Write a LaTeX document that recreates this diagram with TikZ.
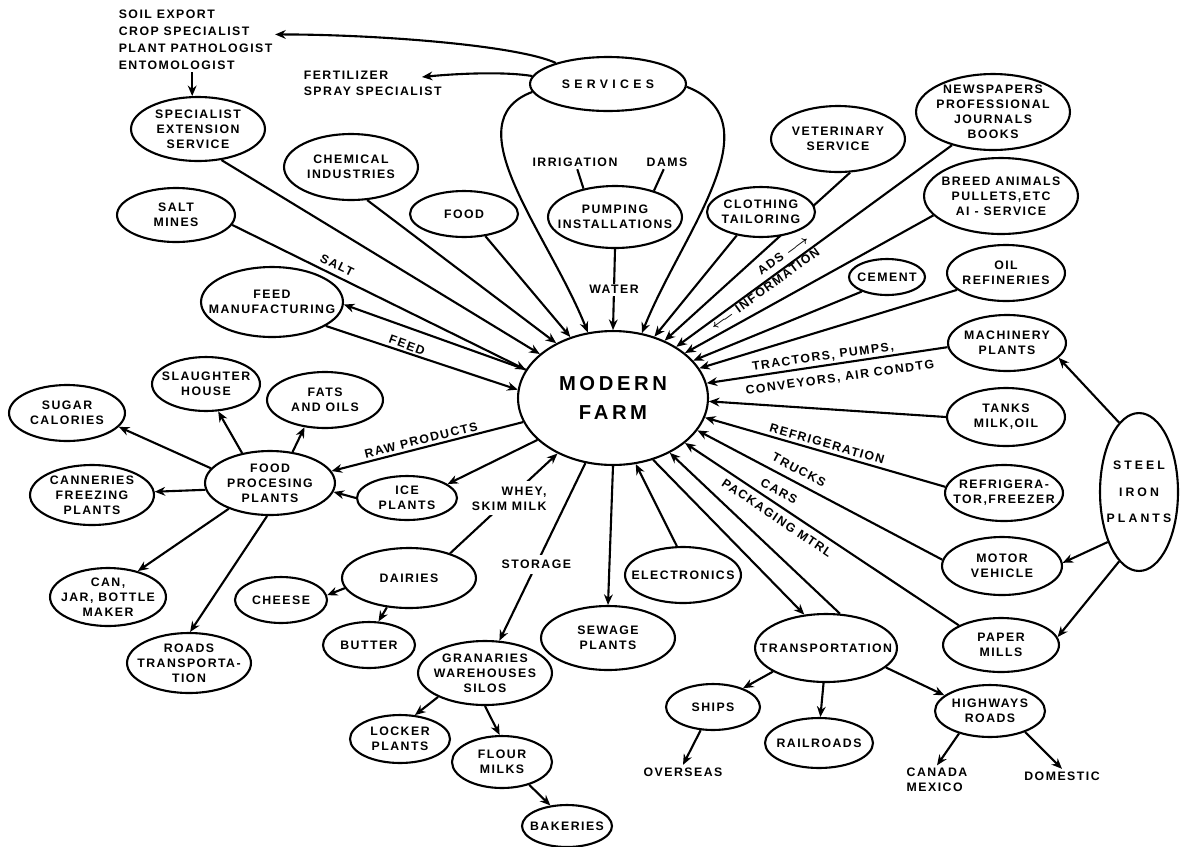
\documentclass[tikz,border=0pt]{standalone}
\usepackage{fontspec}
\setmainfont{Liberation Sans}[LetterSpace=12]
\usetikzlibrary{arrows.meta}
\usetikzlibrary{shapes.geometric}

\tikzset{
  oval/.style 2 args={ellipse, draw, fill=white, inner sep=0pt,
    minimum width=#1*0.04cm, minimum height=#2*0.04cm},
  every label/.style={align=center, inner sep=0pt,
    font=\bfseries\fontsize{7}{8.5}\selectfont},
  txt/.style={align=center, inner sep=1pt,
    font=\bfseries\fontsize{7}{8.5}\selectfont},
  arr/.style={-{Stealth[length=6pt,width=5pt]}},
}

\begin{document}
\begin{tikzpicture}[x=0.02cm, y=-0.02cm, line width=1.2pt]
  \useasboundingbox (0,0) rectangle (1180,846);

  % Centre
  \node[oval={95}{67}, label={[font=\bfseries\fontsize{11.5}{17}\selectfont\addfontfeature{LetterSpace=18}]center:MODERN\\FARM}] (farm) at (613,398) {};

  % Services
  \node[oval={78}{27}, label={[font=\bfseries\fontsize{7}{8.5}\selectfont\addfontfeature{LetterSpace=35}]center:SERVICES}] (services) at (608,84) {};
  \node[txt, anchor=west, align=left, font=\bfseries\fontsize{7}{9.6}\selectfont] (soil) at (116,40) {SOIL EXPORT\\CROP SPECIALIST\\PLANT PATHOLOGIST\\ENTOMOLOGIST};
  \node[txt, anchor=west, align=left, font=\bfseries\fontsize{7}{9}\selectfont] (fert) at (301,83) {FERTILIZER\\SPRAY SPECIALIST};
  \coordinate (fertin) at (422,77);

  % Upper left
  \node[oval={67}{32}, label={center:SPECIALIST\\EXTENSION\\SERVICE}] (spec) at (198,129) {};
  \node[oval={67}{33}, label={center:CHEMICAL\\INDUSTRIES}] (chem) at (351,167) {};
  \node[oval={54}{23}, label={center:FOOD}] (food) at (464,214) {};
  \node[oval={59}{27}, label={center:SALT\\MINES}] (saltm) at (176,215) {};
  \node[oval={71}{35}, label={center:FEED\\MANUFACTURING}] (feedm) at (272,302) {};

  % Upper middle
  \node[oval={67}{31}, label={center:PUMPING\\INSTALLATIONS}] (pump) at (615,217) {};
  \node[txt] (irrig) at (575,162) {IRRIGATION};
  \node[txt] (dams) at (667,162) {DAMS};
  \node[oval={67}{33}, label={center:VETERINARY\\SERVICE}] (vet) at (838,139) {};

  % Upper right
  \node[oval={77}{38}, label={center:NEWSPAPERS\\PROFESSIONAL\\JOURNALS\\BOOKS}] (news) at (993,112) {};
  \node[oval={77}{38}, label={center:{BREED ANIMALS\\PULLETS,ETC\\AI - SERVICE}}] (breed) at (1001,196) {};
  \node[oval={38}{18}, label={center:CEMENT}] (cement) at (887,277) {};
  \node[oval={59}{28}, label={center:OIL\\REFINERIES}] (oil) at (1006,273) {};

  % Right
  \node[oval={59}{28}, label={center:MACHINERY\\PLANTS}] (mach) at (1007,343) {};
  \node[oval={59}{29}, label={center:{TANKS\\MILK,OIL}}] (tanks) at (1006,417) {};
  \node[oval={59}{28}, label={center:{REFRIGERA-\\TOR,FREEZER}}] (fridge) at (1004,493) {};
  \node[oval={60}{29}, label={center:MOTOR\\VEHICLE}] (motor) at (1002,566) {};
  \node[oval={58}{27}, label={center:PAPER\\MILLS}] (paper) at (1001,645) {};
  \node[oval={39}{79}, label={[font=\bfseries\fontsize{7}{15}\selectfont\addfontfeature{LetterSpace=25}]center:STEEL\\IRON\\PLANTS}] (steel) at (1139,492) {};

  % Left
  \node[oval={54}{27}, label={center:SLAUGHTER\\HOUSE}] (slaughter) at (206,384) {};
  \node[oval={58}{28}, label={center:FATS\\AND OILS}] (fats) at (325,400) {};
  \node[oval={58}{28}, label={center:SUGAR\\CALORIES}] (sugar) at (67,413) {};
  \node[oval={65}{32}, label={center:FOOD\\PROCESING\\PLANTS}] (foodp) at (270,483) {};
  \node[oval={62}{30}, label={center:CANNERIES\\FREEZING\\PLANTS}] (cann) at (92,495) {};
  \node[oval={58}{29}, label={center:{CAN,\\JAR, BOTTLE\\MAKER}}] (can) at (108,597) {};
  \node[oval={62}{30}, label={center:ROADS\\TRANSPORTA-\\TION}] (roads) at (189,663) {};
  \node[oval={50}{22}, label={center:ICE\\PLANTS}] (ice) at (407,498) {};

  % Lower middle
  \node[oval={67}{30}, label={center:DAIRIES}] (dairies) at (409,578) {};
  \node[oval={46}{23}, label={center:CHEESE}] (cheese) at (281,600) {};
  \node[oval={46}{23}, label={center:BUTTER}] (butter) at (369,645) {};
  \node[oval={67}{32}, label={center:GRANARIES\\WAREHOUSES\\SILOS}] (gran) at (485,673) {};
  \node[oval={50}{24}, label={center:LOCKER\\PLANTS}] (locker) at (400,739) {};
  \node[oval={50}{26}, label={center:FLOUR\\MILKS}] (flour) at (502,762) {};
  \node[oval={45}{21}, label={center:BAKERIES}] (bakeries) at (567,826) {};
  \node[oval={67}{32}, label={center:SEWAGE\\PLANTS}] (sewage) at (608,638) {};
  \node[oval={58}{28}, label={center:ELECTRONICS}] (elec) at (683,575) {};

  % Lower right
  \node[oval={71}{34}, label={center:TRANSPORTATION}] (transp) at (826,648) {};
  \node[oval={47}{23}, label={center:SHIPS}] (ships) at (713,707) {};
  \node[oval={54}{25}, label={center:RAILROADS}] (rail) at (819,743) {};
  \node[oval={55}{26}, label={center:HIGHWAYS\\ROADS}] (highways) at (990,711) {};
  \node[txt] (overseas) at (683,772) {OVERSEAS};
  \node[txt, align=left] (canada) at (937,780) {CANADA\\MEXICO};
  \node[txt] (domestic) at (1062,776) {DOMESTIC};

  % Services connectors
  \draw[arr] (services.158) .. controls +(-40,-18) and +(100,0) .. (soil.4);
  \draw[arr] (services.174) .. controls +(-30,-5) and +(30,-3) .. (fertin);
  \draw[arr] (soil.south -| spec.100) -- (spec.100);
  \draw[arr] (services.186) .. controls +(-80,30) and +(-40,-100) .. (farm.111);
  \draw[arr] (services.-2) .. controls +(90,35) and +(40,-100) .. (farm.66);

  % Into the farm, left
  \draw[arr] (saltm.-10) -- (farm.162);
  \draw[arr] (farm.162) -- (feedm.-2);
  \draw[arr] (feedm.-24) -- (farm.175);
  \draw[arr] (spec.-53) -- (farm.149);
  \draw[arr] (chem.-64) -- (farm.136);
  \draw[arr] (food.-46) -- (farm.125);
  \draw[arr] (pump.south) -- node[txt, fill=white] (water) {WATER} (farm.north);
  \draw (irrig) -- (pump.138);
  \draw (dams) -- (pump.34);

  % Into the farm, right
  \draw[arr] (vet.-70) -- (farm.48);
  \node[oval={54}{25}, label={center:CLOTHING\\TAILORING}] (cloth) at (761,212) {};
  \draw[arr] (cloth.224) -- (farm.56);
  \draw[arr] (news.219) -- (farm.39);
  \draw[arr] (breed.196) -- (farm.32);
  \draw[arr] (cement.210) -- (farm.25);
  \draw[arr] (oil.199) -- (farm.19);
  \draw[arr] (mach.184) -- (farm.9);
  \draw[arr] (tanks.west) -- (farm.-2);
  \draw[arr] (fridge.174) -- (farm.-12);
  \draw[arr] (motor.174) -- (farm.-21);
  \draw[arr] (paper.155) -- (farm.-32);
  \draw[arr] (transp.68) -- (farm.-44);

  % Out of the farm
  \draw[arr] (farm.-57) -- (transp.123);
  \draw[arr] (elec.102) -- (farm.-71);
  \draw[arr] (farm.south) -- (sewage.north);
  \draw[arr] (farm.-113) -- node[txt, fill=white, inner sep=3pt, pos=0.57] (storage) {STORAGE} (gran.66);
  \draw[arr] (dairies.31) -- node[txt, fill=white, align=right, inner sep=3pt, pos=0.55] (whey) {WHEY,\\SKIM MILK} (farm.-135);
  \draw[arr] (farm.209) -- (ice.19);
  \draw[arr] (farm.195) -- (foodp.11);
  \draw[arr] (ice.west) -- (foodp.-8);

  % Food processing
  \draw[arr] (foodp.166) -- (sugar.-15);
  \draw[arr] (foodp.133) -- (slaughter.-66);
  \draw[arr] (foodp.54) -- (fats.233);
  \draw[arr] (foodp.186) -- (cann.3);
  \draw[arr] (foodp.212) -- (can.41);
  \draw[arr] (foodp.265) -- (roads.88);

  % Dairies and granaries
  \draw[arr] (dairies.189) -- (cheese.6);
  \draw[arr] (dairies.233) -- (butter.68);
  \draw[arr] (gran.207) -- (locker.58);
  \draw[arr] (gran.270) -- (flour.95);
  \draw[arr] (flour.-40) -- (bakeries.129);

  % Transportation
  \draw[arr] (transp.204) -- (ships.32);
  \draw[arr] (transp.266) -- (rail.87);
  \draw[arr] (transp.-18) -- (highways.161);
  \draw[arr] (ships.242) -- (overseas.north);
  \draw[arr] (highways.216) -- (canada.north);
  \draw[arr] (highways.-31) -- (domestic.north);

  % Steel
  \draw[arr] (steel.106) -- (mach.-16);
  \draw[arr] (steel.238) -- (motor.3);
  \draw[arr] (steel.254) -- (paper.8);

  % Line labels
  \node[txt, rotate=-26] (salt) at (337,265) {SALT};
  \node[txt, rotate=-20] (feed) at (407,345) {FEED};
  \node[txt, rotate=14] (raw) at (421,440) {RAW PRODUCTS};
  \node[txt, rotate=36] (ads) at (783,255) {ADS {\boldmath$\longrightarrow$}};
  \node[txt, rotate=36] (info) at (765,289) {{\boldmath$\longleftarrow$} INFORMATION};
  \node[txt, rotate=8] (tractors) at (823,357) {TRACTORS, PUMPS,};
  \node[txt, rotate=8] (conveyors) at (840,378) {CONVEYORS, AIR CONDTG};
  \node[txt, rotate=-16] (refr) at (827,444) {REFRIGERATION};
  \node[txt, rotate=-28] (trucks) at (799,470) {TRUCKS};
  \node[txt, rotate=-28] (cars) at (779,491) {CARS};
  \node[txt, rotate=-34] (pack) at (777,518) {PACKAGING MTRL};
\end{tikzpicture}
\end{document}
